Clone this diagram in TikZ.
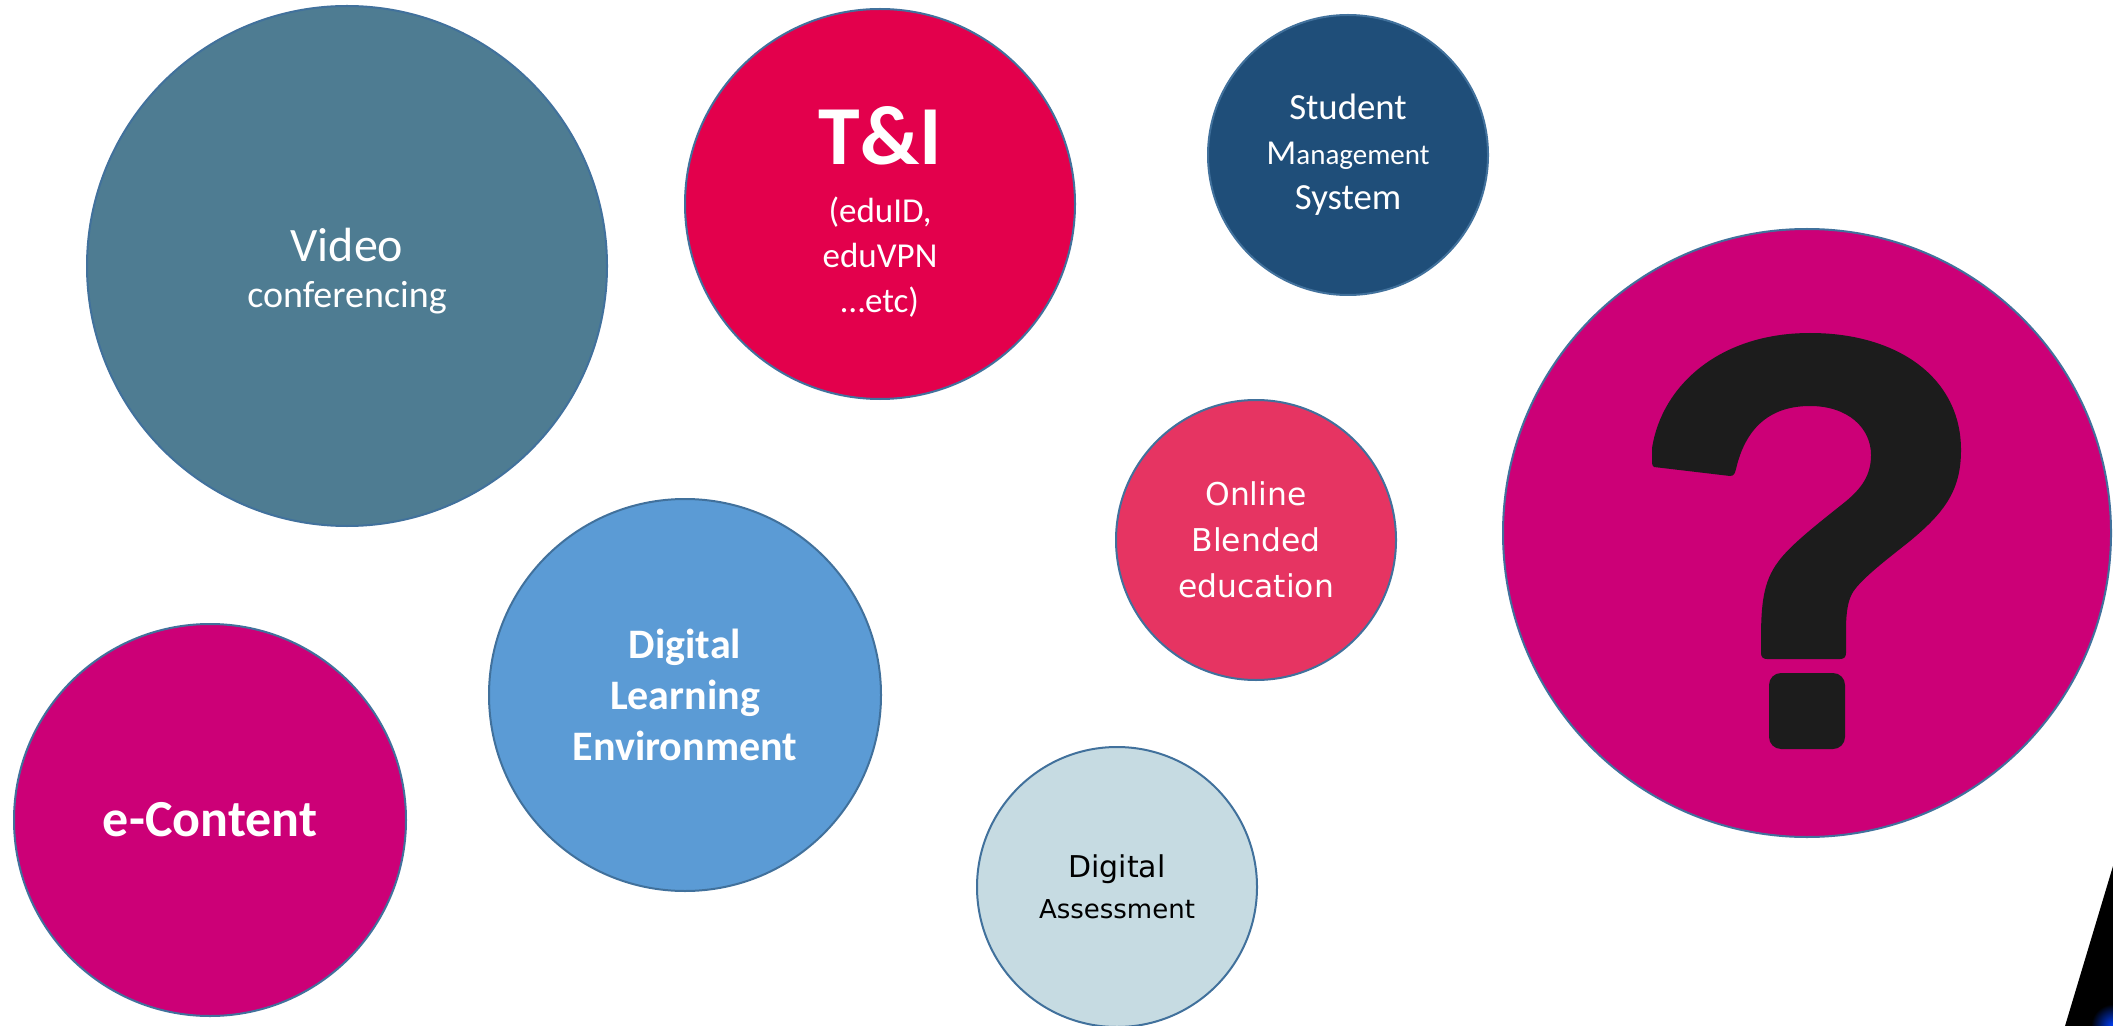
\documentclass[tikz,border=0pt]{standalone}
\usepackage{fontspec}
\setmainfont{Carlito}
\newfontfamily\dejavu{DejaVu Sans}
\definecolor{videoC}{HTML}{4E7C92}
\definecolor{tiC}{HTML}{E3004C}
\definecolor{smsC}{HTML}{1F4E79}
\definecolor{onlineC}{HTML}{E63462}
\definecolor{dleC}{HTML}{5B9BD5}
\definecolor{econC}{HTML}{CC0077}
\definecolor{daC}{HTML}{C6DBE2}
\definecolor{borderC}{HTML}{41719C}
\definecolor{qmarkC}{HTML}{1C1C1C}
\begin{document}
\begin{tikzpicture}[x=0.5pt,y=-0.5pt,
  bubble/.style={circle, draw=borderC, line width=1pt, inner sep=0pt, align=center, text=white},
  caption/.style={inner sep=0pt, align=center, text=white}]
\useasboundingbox (0,0) rectangle (2113,1026);
\fill[white] (0,0) rectangle (2113,1026);

\node[bubble, fill=videoC, minimum size=260pt] (video) at (347,266) {};
\node[caption, font=\fontsize{24}{23}\selectfont] (videoT) at ([yshift=-2.5pt]video.center)
  {Video\\{\fontsize{19}{23}\selectfont conferencing}};

\node[bubble, fill=tiC, minimum size=195pt] (ti) at (880,204) {};
\node[caption, font=\fontsize{17.5}{22.5}\selectfont] (tiT) at ([yshift=-4pt]ti.center)
  {{\bfseries\fontsize{42}{42}\selectfont T\&I}\\[6.5pt](eduID,\\eduVPN\\…etc)};

\node[bubble, fill=smsC, minimum size=140pt, font=\fontsize{18.4}{22.5}\selectfont] (sms) at (1348,155)
  {Student\\{\fontsize{17.5}{22.5}\selectfont M}{\fontsize{14.5}{22.5}\selectfont anagement}\\System};

\node[bubble, fill=onlineC, minimum size=140pt, font=\dejavu\fontsize{15.7}{23}\selectfont] (online) at (1256,540)
  {Online\\Blended\\education};

\node[bubble, fill=dleC, minimum size=196pt, font=\bfseries\fontsize{21}{25.5}\selectfont] (dle) at (685,695)
  {Digital\\Learning\\Environment};

\node[bubble, fill=econC, minimum size=196pt, font=\bfseries\fontsize{26}{30}\selectfont] (econ) at (210,820)
  {e-Content};

\node[bubble, fill=daC, text=black, minimum size=140pt, font=\dejavu\fontsize{15}{20.5}\selectfont] (da) at (1117,887)
  {Digital\\{\fontsize{13}{20.5}\selectfont Assessment}};

\node[bubble, fill=econC, minimum size=304pt] (quest) at (1807,533) {};

% question mark glyph
\fill[qmarkC] (1654,467) -- (1730,476)
  .. controls (1734,476) and (1735,473) .. (1736,469)
  .. controls (1745,430) and (1768,406) .. (1810,406)
  .. controls (1848,406) and (1871,428) .. (1871,455)
  .. controls (1871,475) and (1862,488) .. (1845,502)
  .. controls (1820,522) and (1790,545) .. (1778,562)
  .. controls (1763,582) and (1761,605) .. (1761,640)
  -- (1761,653) .. controls (1761,657) and (1763,659) .. (1767,659)
  -- (1840,659) .. controls (1844,659) and (1846,657) .. (1846,653)
  -- (1846,630) .. controls (1846,612) and (1848,600) .. (1853,592)
  .. controls (1862,578) and (1890,557) .. (1910,541)
  .. controls (1945,512) and (1961,490) .. (1961,450)
  .. controls (1961,378) and (1898,333) .. (1810,333)
  .. controls (1720,333) and (1662,385) .. (1652,448)
  -- (1652,461) .. controls (1652,465) and (1653,467) .. (1654,467) -- cycle;
\fill[qmarkC, rounded corners=6pt] (1769,673) rectangle (1845,749);

% black wedge at bottom right
\fill[black] (2113,866) -- (2065,1026) -- (2113,1026) -- cycle;
\begin{scope}
  \clip (2113,866) -- (2065,1026) -- (2113,1026) -- cycle;
  \shade[inner color=blue!75!cyan, outer color=black] (2113,1026) circle (22);
\end{scope}
\end{tikzpicture}
\end{document}
